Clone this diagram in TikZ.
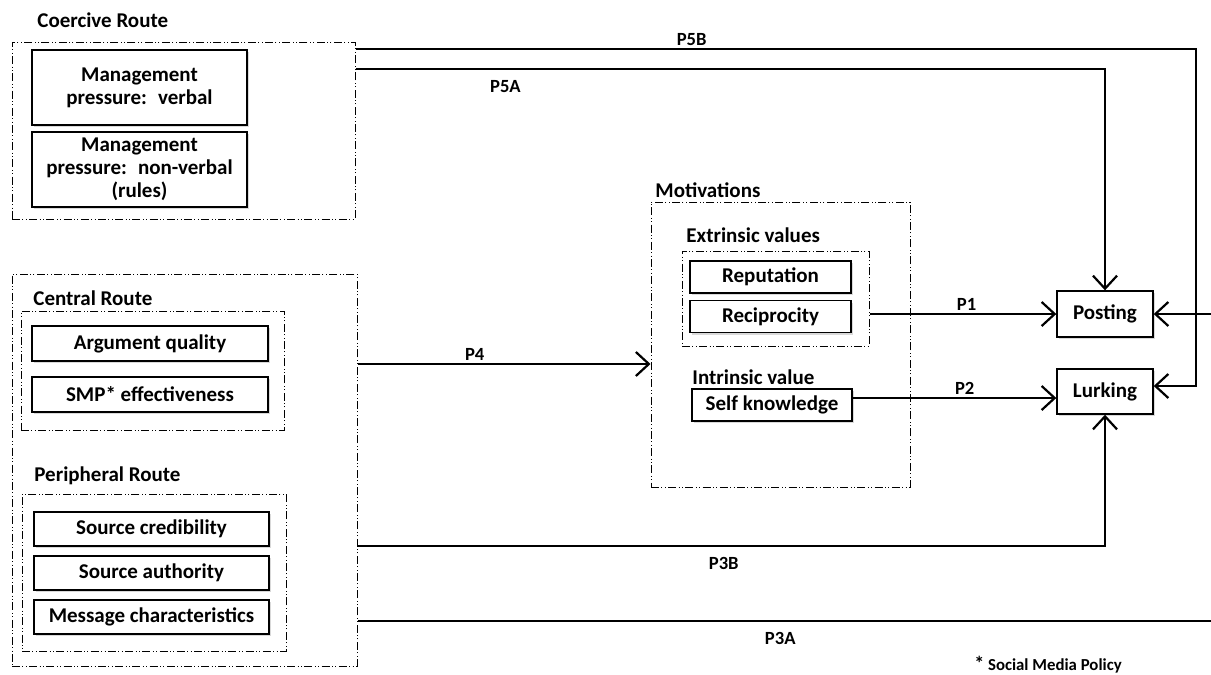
\documentclass[tikz,border=0pt]{standalone}
\usepackage{fontspec}
\setmainfont{Carlito}
\usetikzlibrary{arrows.meta, positioning, shadows}

\begin{document}
\begin{tikzpicture}[%
    x=0.5pt, y=-0.5pt,
    >={Straight Barb[length=6.5pt, width=12pt]},
    node distance=2cm,
    on grid,
    font=\bfseries\fontsize{10.5}{11.6}\selectfont,
    item/.style={draw, line width=0.7pt, fill=white, align=center, inner sep=1pt,
      drop shadow={shadow xshift=1pt, shadow yshift=-1pt, opacity=0.3}},
    route/.style={draw, line width=0.5pt,
      dash pattern=on 4pt off 1.2pt on 0.5pt off 1.2pt on 0.5pt off 1.2pt},
    title/.style={anchor=west, inner sep=0pt},
    link/.style={line width=1.1pt},
    lbl/.style={font=\bfseries\fontsize{9.3}{10}\selectfont, inner sep=1pt}
  ]
  \useasboundingbox (0,0) rectangle (1211,675);

  % coercive route
  \node[title] (coerctitle) at (37,20) {Coercive Route};
  \node[route, minimum width=171.5pt, minimum height=88.5pt] (coerc) at (183.5,130.5) {};
  \node[item, minimum width=107.5pt, minimum height=37.5pt] (verbal) at (139.5,87.5) {Management\\pressure:~ verbal};
  \node[item, minimum width=107.5pt, minimum height=37.5pt] (nonverbal) [below=41pt of verbal] {Management\\pressure:~ non-verbal\\(rules)};

  % persuasion routes
  \node[route, minimum width=172.5pt, minimum height=196pt] (persu) at (184.5,470) {};
  \node[title] (centraltitle) at (33,298) {Central Route};
  \node[route, minimum width=131.5pt, minimum height=59.5pt] (central) at (152.5,370.5) {};
  \node[item, minimum width=118pt, minimum height=17.5pt] (argq) at (150,343.5) {Argument quality};
  \node[item, minimum width=118pt, minimum height=17.5pt] (smpeff) [below=25.5pt of argq] {SMP* effectiveness};
  \node[title] (periphtitle) at (34,476) {Peripheral Route};
  \node[route, minimum width=132pt, minimum height=78.5pt] (periph) at (154,572.5) {};
  \node[item, minimum width=117.5pt, minimum height=17pt] (credib) at (151.5,529) {Source credibility};
  \node[item, minimum width=117.5pt, minimum height=17pt] (author) [below=22pt of credib] {Source authority};
  \node[item, minimum width=117.5pt, minimum height=17pt] (msgchar) [below=22pt of author] {Message characteristics};

  % motivations
  \node[title] (motivtitle) at (655,190) {Motivations};
  \node[route, minimum width=129.5pt, minimum height=142.5pt] (motiv) at (780.5,344.5) {};
  \node[title] (extrtitle) at (686,235) {Extrinsic values};
  \node[route, minimum width=93.5pt, minimum height=47.5pt] (extr) at (775.5,298.5) {};
  \node[item, minimum width=80.5pt, minimum height=16pt] (reput) at (770.5,277) {Reputation};
  \node[item, minimum width=80.5pt, minimum height=16pt] (recip) [below=19.75pt of reput] {Reciprocity};
  \node[title] (intrtitle) at (692,377) {Intrinsic value};
  \node[item, minimum width=80pt, minimum height=16pt] (selfk) at (772,405) {Self knowledge};

  % behaviours
  \node[item, minimum width=48pt, minimum height=23pt] (post) at (1105,314) {Posting};
  \node[item, minimum width=48pt, minimum height=22.5pt] (lurk) at (1105,391.5) {Lurking};
  \node[lbl, font=\bfseries\fontsize{8.4}{10}\selectfont] (note) at (1048,665) {{\fontsize{10}{10}\selectfont*} Social Media Policy};

  \coordinate (p5b) at (1196,49);
  \coordinate (p5a) at (0,69);
  \coordinate (p4) at (0,364);
  \coordinate (p2) at (0,398);
  \coordinate (p3b) at (0,546);
  \coordinate (p3a) at (1215,621);

  \draw[link, ->] (coerc.east |- p5b) -- node[lbl, pos=0.4, above] {P5B} (p5b) |- ([yshift=2.75pt]lurk.east);
  \draw[link, ->] (coerc.east |- p5a) -| node[lbl, pos=0.1, below=4pt] {P5A} (post.north);
  \draw[link, ->] (persu.east |- p4) -- node[lbl, pos=0.4, above] {P4} (motiv.west |- p4);
  \draw[link, ->] (extr.east |- post.west) -- node[lbl, pos=0.52, above] {P1} (post.west);
  \draw[link, ->] (selfk.east |- p2) -- node[lbl, pos=0.55, above] {P2} (lurk.west |- p2);
  \draw[link, ->] (persu.east |- p3b) -| node[lbl, pos=0.245, below=4pt] {P3B} (lurk.south);
  \draw[link, ->] (persu.east |- p3a) -- node[lbl, pos=0.493, below=4pt] {P3A} (p3a) |- (post.east);
\end{tikzpicture}
\end{document}
